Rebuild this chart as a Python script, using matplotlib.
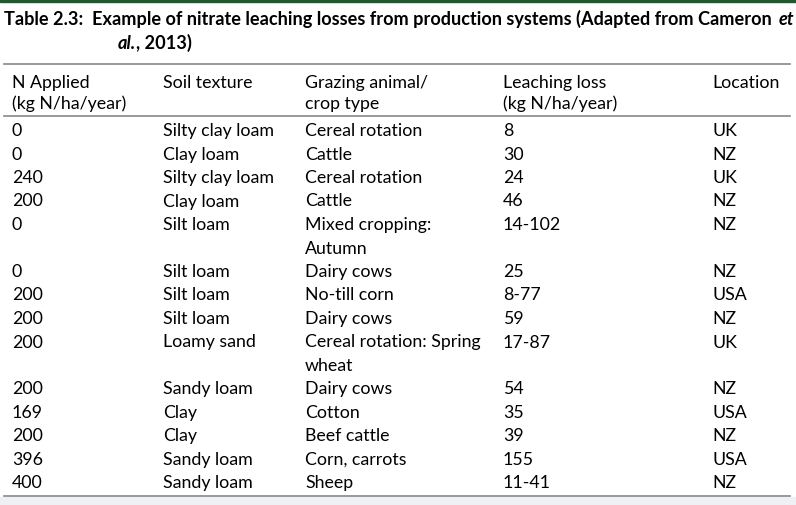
import matplotlib
matplotlib.use("Agg")
import matplotlib.pyplot as plt

title1 = "Table 2.3:  Example of nitrate leaching losses from production systems (Adapted from Cameron "
headers = [["N Applied", "(kg N/ha/year)"], ["Soil texture"], ["Grazing animal/", "crop type"],
           ["Leaching loss", "(kg N/ha/year)"], ["Location"]]
n_applied = ["0", "0", "240", "200", "0", "0", "200", "200", "200", "200", "169", "200", "396", "400"]
soil = ["Silty clay loam", "Clay loam", "Silty clay loam", "Clay loam", "Silt loam", "Silt loam", "Silt loam",
        "Silt loam", "Loamy sand", "Sandy loam", "Clay", "Clay", "Sandy loam", "Sandy loam"]
crop = [["Cereal rotation"], ["Cattle"], ["Cereal rotation"], ["Cattle"], ["Mixed cropping:", "Autumn"],
        ["Dairy cows"], ["No-till corn"], ["Dairy cows"], ["Cereal rotation: Spring", "wheat"],
        ["Dairy cows"], ["Cotton"], ["Beef cattle"], ["Corn, carrots"], ["Sheep"]]
loss = ["8", "30", "24", "46", "14-102", "25", "8-77", "59", "17-87", "54", "35", "39", "155", "11-41"]
location = ["UK", "NZ", "UK", "NZ", "NZ", "NZ", "USA", "NZ", "UK", "NZ", "USA", "NZ", "USA", "NZ"]

W, H = 796, 506
fig = plt.figure(figsize=(W/100, H/100), dpi=100)
ax = fig.add_axes([0, 0, 1, 1])
ax.set_xlim(0, W); ax.set_ylim(H, 0); ax.axis("off")
fam = "Lato"; fs = 12.8; tfs = 13.1
r = fig.canvas.get_renderer()

def after(t):
    bb = t.get_window_extent(renderer=r)
    return ax.transData.inverted().transform((bb.x1, bb.y0))[0]

ax.add_patch(plt.Rectangle((0, 0), W, 3, color="#1e5a2e"))
t = ax.text(4, 19, title1, fontsize=tfs, fontweight="bold", family=fam, va="center")
ax.text(after(t) + 2, 19, "et", fontsize=tfs, fontweight="bold", style="italic", family=fam, va="center")
t = ax.text(118, 43, "al.", fontsize=tfs, fontweight="bold", style="italic", family=fam, va="center")
ax.text(after(t), 43, ", 2013)", fontsize=tfs, fontweight="bold", family=fam, va="center")
ax.plot([4, 790], [65, 65], color="#888888", lw=1.2)
ax.plot([4, 790], [117, 117], color="#888888", lw=1.2)
ax.plot([4, 790], [497, 497], color="#888888", lw=1.2)
ax.add_patch(plt.Rectangle((0, 498), W, 8, color="#eef0f3"))
xs = [12, 163, 305, 503, 712]
lh = 23.5
for x, h in zip(xs, headers):
    for i, tx in enumerate(h):
        ax.text(x, 83 + i*20.5, tx, fontsize=fs, family=fam, va="center")
y = 131
for i in range(len(n_applied)):
    cols = [[n_applied[i]], [soil[i]], crop[i], [loss[i]], [location[i]]]
    for x, c in zip(xs, cols):
        for j, tx in enumerate(c):
            ax.text(x, y + j*lh, tx, fontsize=fs, family=fam, va="center")
    y += lh * len(crop[i])
fig.savefig("out.png", dpi=100)
